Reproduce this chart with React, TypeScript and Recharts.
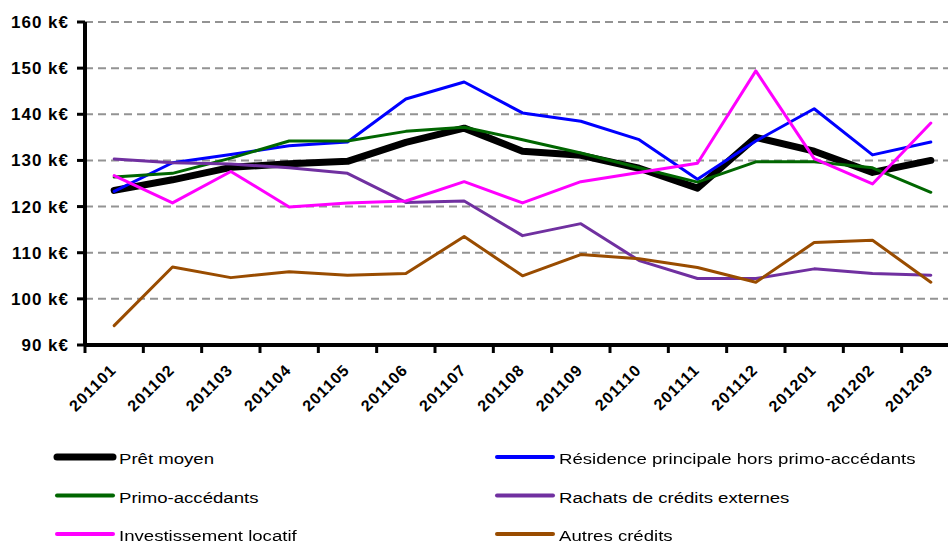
import React from "react";
import { LineChart, Line, XAxis, YAxis, CartesianGrid, Legend } from "recharts";

const MONTHS = [
  "201101", "201102", "201103", "201104", "201105", "201106", "201107", "201108",
  "201109", "201110", "201111", "201112", "201201", "201202", "201203",
];

const PRET_MOYEN = [123.5, 125.8, 128.5, 129.3, 129.8, 133.9, 137.0, 132.0, 131.1, 128.3, 124.0, 135.0, 132.0, 127.4, 130.0];
const RESIDENCE = [123.3, 129.5, 131.3, 133.2, 134.0, 143.3, 147.0, 140.3, 138.5, 134.5, 125.9, 134.2, 141.2, 131.2, 134.0];
const PRIMO = [126.4, 127.2, 130.5, 134.2, 134.2, 136.3, 137.2, 134.5, 131.6, 128.4, 125.3, 129.7, 129.7, 128.4, 123.1];
const RACHATS = [130.3, 129.5, 129.2, 128.4, 127.2, 120.9, 121.2, 113.7, 116.3, 108.3, 104.4, 104.4, 106.5, 105.5, 105.1];
const INVEST = [126.7, 120.8, 127.6, 119.9, 120.8, 121.2, 125.4, 120.8, 125.4, 127.4, 129.4, 149.4, 130.4, 124.9, 138.1];
const AUTRES = [94.2, 106.9, 104.6, 105.9, 105.1, 105.5, 113.5, 105.0, 109.6, 108.7, 106.8, 103.6, 112.2, 112.7, 103.6];

const Y_TICKS = [90, 100, 110, 120, 130, 140, 150, 160];

const SERIES = [
  { key: "pret", name: "Prêt moyen", color: "#000000", width: 7, values: PRET_MOYEN },
  { key: "residence", name: "Résidence principale hors primo-accédants", color: "#0000ff", width: 3, values: RESIDENCE },
  { key: "primo", name: "Primo-accédants", color: "#006600", width: 3, values: PRIMO },
  { key: "rachats", name: "Rachats de crédits externes", color: "#7030a0", width: 3, values: RACHATS },
  { key: "invest", name: "Investissement locatif", color: "#ff00ff", width: 3, values: INVEST },
  { key: "autres", name: "Autres crédits", color: "#994c00", width: 3, values: AUTRES },
];

const data = MONTHS.map((m, i) => {
  const row: Record<string, string | number> = { month: m };
  SERIES.forEach((s) => (row[s.key] = s.values[i]));
  return row;
});

const FONT = "'Liberation Sans', Arial, sans-serif";

// tick mark on the category boundary (left edge), label rotated under the centre
function MonthTick(props: any) {
  const { x, y, payload, width } = props;
  const step = (width || 875) / MONTHS.length;
  const left = x - step / 2;
  return (
    <g>
      <line x1={left} y1={y - 8} x2={left} y2={y} stroke="#000" strokeWidth={3} />
      <text
        x={x + 3}
        y={y + 18}
        textAnchor="end"
        transform={`rotate(-45 ${x + 3} ${y + 18})`}
        fontFamily={FONT}
        fontWeight="bold"
        fontSize={16}
        letterSpacing={1}
        fill="#000"
      >
        {payload.value}
      </text>
    </g>
  );
}

function LegendBox() {
  const cols = [57, 497];
  const rows = [457, 495.5, 534];
  return (
    <svg width={948} height={543} style={{ position: "absolute", left: 0, top: 0, overflow: "visible" }}>
      {SERIES.map((s, i) => {
        const cx = cols[i % 2];
        const cy = rows[Math.floor(i / 2)];
        return (
          <g key={s.key}>
            <line x1={cx} y1={cy} x2={cx + 56} y2={cy} stroke={s.color} strokeWidth={s.width === 7 ? 7 : 4} strokeLinecap="round" />
            <g transform={`translate(${cx + 62} ${cy + 7}) scale(1.2 1)`}>
              <text x={0} y={0} fontFamily={FONT} fontSize={15.5} fill="#000">
                {s.name}
              </text>
            </g>
          </g>
        );
      })}
    </svg>
  );
}

export default function App() {
  return (
    <div style={{ position: "fixed", left: 0, top: 0, width: 948, height: 543, background: "#fff" }}>
      <LineChart width={948} height={543} data={data} margin={{ top: 22, right: -12, left: 0, bottom: 118 }}>
        <CartesianGrid vertical={false} stroke="#939393" strokeDasharray="8 5" strokeWidth={2} />
        <XAxis
          dataKey="month"
          scale="band"
          height={80}
          interval={0}
          axisLine={{ stroke: "#000", strokeWidth: 4 }}
          tickLine={false}
          tick={<MonthTick />}
        />
        <YAxis
          domain={[90, 160]}
          ticks={Y_TICKS}
          interval={0}
          width={85}
          tickFormatter={(v: number) => `${v} k€`}
          axisLine={{ stroke: "#000", strokeWidth: 4 }}
          tickLine={{ stroke: "#000", strokeWidth: 3 }}
          tickSize={8}
          tickMargin={8}
          tick={{ fill: "#000", fontSize: 17, fontWeight: "bold", fontFamily: FONT, letterSpacing: 1 }}
        />
        {SERIES.map((s) => (
          <Line
            key={s.key}
            dataKey={s.key}
            name={s.name}
            type="linear"
            stroke={s.color}
            strokeWidth={s.width}
            strokeLinejoin="round"
            strokeLinecap="round"
            dot={false}
            activeDot={false}
            isAnimationActive={false}
          />
        ))}
        <Legend
          verticalAlign="middle"
          align="center"
          layout="horizontal"
          wrapperStyle={{ position: "absolute", left: 0, top: 0, width: 948, height: 0 }}
          content={() => <LegendBox />}
        />
      </LineChart>
    </div>
  );
}
